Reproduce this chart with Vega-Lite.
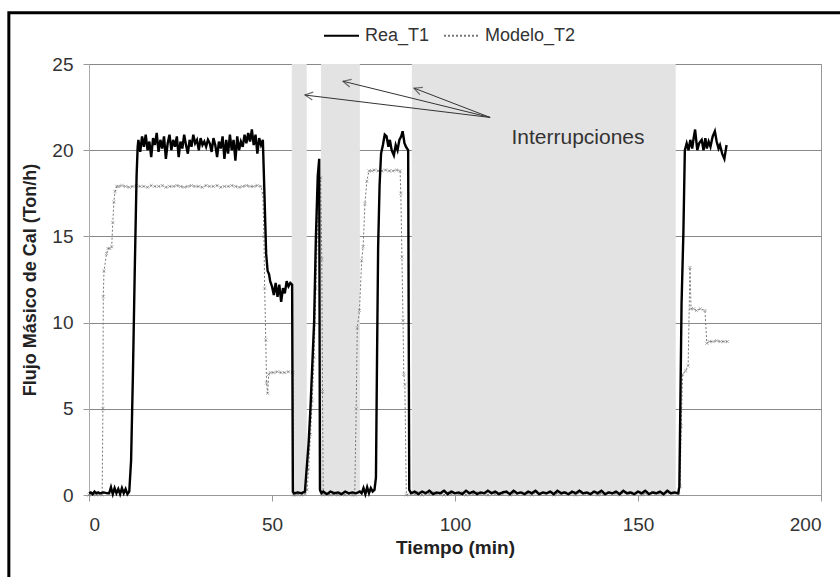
{
  "$schema": "https://vega.github.io/schema/vega-lite/v6.json",
  "autosize": {"type": "none"},
  "width": 732,
  "height": 431,
  "padding": {"left": 89, "top": 64, "right": 19, "bottom": 82},
  "config": {
    "font": "Liberation Sans",
    "view": {"stroke": "#999999", "strokeWidth": 1},
    "legend": {"padding": 0}
  },
  "datasets": {
    "rea": [
      {"t":0,"v":0.1},{"t":0.5,"v":0.15},{"t":1,"v":0.05},{"t":1.5,"v":0.2},{"t":2,"v":0.1},{"t":2.5,"v":0.15},{"t":3,"v":0.1},{"t":4,"v":0.15},{"t":5,"v":0.1},{"t":5.5,"v":0.1},{"t":6,"v":0.45},{"t":6.5,"v":0.05},{"t":7,"v":0.4},{"t":7.5,"v":0.1},{"t":8,"v":0.35},{"t":8.5,"v":0.05},{"t":9,"v":0.4},{"t":9.5,"v":0.1},{"t":10,"v":0.35},{"t":10.5,"v":0.05},{"t":11,"v":0.2},
      {"t":11.5,"v":2},{"t":12,"v":7},{"t":12.5,"v":13},{"t":13,"v":18.5},{"t":13.3,"v":20.2},
      {"t":13.5,"v":20.6},{"t":14,"v":19.9},{"t":14.5,"v":20.8},{"t":15,"v":20.2},{"t":15.5,"v":20.9},{"t":16,"v":20.0},{"t":16.5,"v":20.5},{"t":17,"v":19.6},{"t":17.5,"v":20.7},{"t":18,"v":20.3},{"t":18.5,"v":21.0},{"t":19,"v":19.9},{"t":19.5,"v":20.6},{"t":20,"v":20.1},{"t":20.5,"v":20.8},{"t":21,"v":19.5},{"t":21.5,"v":20.4},{"t":22,"v":20.9},{"t":22.5,"v":20.0},{"t":23,"v":20.6},{"t":23.5,"v":20.2},{"t":24,"v":20.8},{"t":24.5,"v":19.6},{"t":25,"v":20.5},{"t":25.5,"v":20.1},{"t":26,"v":20.9},{"t":26.5,"v":20.3},{"t":27,"v":19.8},{"t":27.5,"v":20.6},{"t":28,"v":20.2},{"t":28.5,"v":20.9},{"t":29,"v":20.4},{"t":29.5,"v":20.6},{"t":30,"v":20.0},{"t":30.5,"v":20.7},{"t":31,"v":20.3},{"t":31.5,"v":20.5},{"t":32,"v":20.2},{"t":32.5,"v":20.6},{"t":33,"v":20.4},{"t":33.5,"v":19.9},{"t":34,"v":20.7},{"t":34.5,"v":20.3},{"t":35,"v":19.6},{"t":35.5,"v":20.5},{"t":36,"v":20.1},{"t":36.5,"v":20.8},{"t":37,"v":19.5},{"t":37.5,"v":20.6},{"t":38,"v":19.8},{"t":38.5,"v":20.9},{"t":39,"v":20.0},{"t":39.5,"v":20.6},{"t":40,"v":19.4},{"t":40.5,"v":20.8},{"t":41,"v":20.0},{"t":41.5,"v":20.5},{"t":42,"v":20.2},{"t":42.5,"v":20.9},{"t":43,"v":20.4},{"t":43.5,"v":21.0},{"t":44,"v":20.5},{"t":44.5,"v":21.2},{"t":45,"v":20.3},{"t":45.5,"v":20.9},{"t":46,"v":19.8},{"t":46.5,"v":20.7},{"t":47,"v":20.3},{"t":47.5,"v":20.6},
      {"t":48,"v":17},{"t":48.4,"v":14},{"t":48.8,"v":13},{"t":49.2,"v":12.8},{"t":49.5,"v":12.4},
      {"t":50,"v":12.1},{"t":50.5,"v":11.6},{"t":51,"v":12.3},{"t":51.5,"v":11.5},{"t":52,"v":12.2},{"t":52.5,"v":11.2},{"t":53,"v":12.0},{"t":53.5,"v":11.7},{"t":54,"v":12.4},{"t":54.5,"v":12.1},{"t":55,"v":12.3},{"t":55.5,"v":12.2},
      {"t":55.7,"v":0.2},{"t":56,"v":0.1},{"t":57,"v":0.15},{"t":58,"v":0.1},{"t":59,"v":0.2},{"t":59.5,"v":1.6},{"t":60,"v":3},{"t":60.5,"v":5},{"t":61,"v":7.5},{"t":61.5,"v":10},{"t":62,"v":15},{"t":62.5,"v":18.5},{"t":62.9,"v":19.5},{"t":63.1,"v":0.3},{"t":63.5,"v":0.1},
      {"t":64,"v":0.2},{"t":65,"v":0.05},{"t":66,"v":0.2},{"t":67,"v":0.1},{"t":68,"v":0.15},{"t":69,"v":0.05},{"t":70,"v":0.2},{"t":71,"v":0.1},{"t":72,"v":0.15},{"t":73,"v":0.1},{"t":74,"v":0.2},{"t":74.5,"v":0.1},{"t":75,"v":0.4},{"t":75.5,"v":0.05},{"t":76,"v":0.45},{"t":76.5,"v":0.1},{"t":77,"v":0.4},{"t":77.5,"v":0.2},{"t":78,"v":0.3},
      {"t":78.4,"v":1},{"t":78.7,"v":8},{"t":79,"v":14.4},{"t":79.4,"v":18},{"t":79.8,"v":19.8},{"t":80.3,"v":20.3},{"t":80.8,"v":20.9},{"t":81.3,"v":20.8},{"t":81.8,"v":20.2},{"t":82.2,"v":20.6},{"t":82.7,"v":20.0},{"t":83.3,"v":19.7},{"t":83.8,"v":20.3},{"t":84.3,"v":20.0},{"t":84.8,"v":20.6},{"t":85.3,"v":20.8},{"t":85.7,"v":21.1},{"t":86.2,"v":20.4},{"t":86.6,"v":20.2},{"t":87.2,"v":20.0},
      {"t":87.5,"v":0.3},{"t":88,"v":0.1},{"t":89,"v":0.2},{"t":90,"v":0.05},{"t":91,"v":0.2},{"t":92,"v":0.1},{"t":93,"v":0.25},{"t":94,"v":0.05},{"t":95,"v":0.15},{"t":96,"v":0.1},{"t":97,"v":0.25},{"t":98,"v":0.05},{"t":99,"v":0.2},{"t":100,"v":0.1},{"t":101,"v":0.15},{"t":102,"v":0.05},{"t":103,"v":0.25},{"t":104,"v":0.1},{"t":105,"v":0.2},{"t":106,"v":0.05},{"t":107,"v":0.15},{"t":108,"v":0.1},{"t":109,"v":0.25},{"t":110,"v":0.1},{"t":111,"v":0.2},{"t":112,"v":0.05},{"t":113,"v":0.15},{"t":114,"v":0.2},{"t":115,"v":0.05},{"t":116,"v":0.25},{"t":117,"v":0.1},{"t":118,"v":0.15},{"t":119,"v":0.05},{"t":120,"v":0.2},{"t":121,"v":0.1},{"t":122,"v":0.25},{"t":123,"v":0.05},{"t":124,"v":0.15},{"t":125,"v":0.1},{"t":126,"v":0.2},{"t":127,"v":0.05},{"t":128,"v":0.25},{"t":129,"v":0.1},{"t":130,"v":0.15},{"t":131,"v":0.05},{"t":132,"v":0.2},{"t":133,"v":0.1},{"t":134,"v":0.25},{"t":135,"v":0.1},{"t":136,"v":0.15},{"t":137,"v":0.05},{"t":138,"v":0.2},{"t":139,"v":0.1},{"t":140,"v":0.25},{"t":141,"v":0.05},{"t":142,"v":0.15},{"t":143,"v":0.1},{"t":144,"v":0.2},{"t":145,"v":0.05},{"t":146,"v":0.25},{"t":147,"v":0.1},{"t":148,"v":0.15},{"t":149,"v":0.05},{"t":150,"v":0.2},{"t":151,"v":0.1},{"t":152,"v":0.25},{"t":153,"v":0.05},{"t":154,"v":0.15},{"t":155,"v":0.1},{"t":156,"v":0.2},{"t":157,"v":0.05},{"t":158,"v":0.25},{"t":159,"v":0.1},{"t":160,"v":0.15},{"t":161,"v":0.1},
      {"t":161.3,"v":0.5},{"t":161.6,"v":5.7},{"t":161.9,"v":11.1},{"t":162.4,"v":15.2},{"t":162.8,"v":20},{"t":163.3,"v":20.4},{"t":163.8,"v":20.0},{"t":164.3,"v":20.6},{"t":164.8,"v":20.1},{"t":165.2,"v":20.7},{"t":165.6,"v":21.2},{"t":166.2,"v":20.0},{"t":166.7,"v":20.4},{"t":167.4,"v":20.6},{"t":167.9,"v":20.0},{"t":168.4,"v":20.7},{"t":168.8,"v":20.1},{"t":169.3,"v":20.5},{"t":169.8,"v":20.2},{"t":170.4,"v":20.8},{"t":171,"v":21.1},{"t":171.5,"v":20.5},{"t":172,"v":20.1},{"t":172.4,"v":20.3},{"t":173,"v":19.8},{"t":173.6,"v":19.5},{"t":174.2,"v":20.3}
    ],
    "mod": [
      {"t":0,"v":0},{"t":1,"v":0.05},{"t":2,"v":0},{"t":3,"v":0.05},{"t":3.6,"v":0},{"t":3.8,"v":5},{"t":3.9,"v":11.5},{"t":4.1,"v":13},{"t":4.8,"v":14.0},{"t":5.2,"v":14.3},{"t":5.7,"v":14.3},{"t":6.2,"v":14.4},{"t":6.5,"v":15.8},{"t":6.8,"v":17.0},{"t":7.1,"v":17.6},{"t":7.6,"v":17.9},
      {"t":8,"v":17.9},{"t":9,"v":17.95},{"t":10,"v":17.9},{"t":11,"v":17.85},{"t":12,"v":17.9},{"t":13,"v":17.95},{"t":14,"v":17.9},{"t":15,"v":17.9},{"t":16,"v":17.85},{"t":17,"v":17.95},{"t":18,"v":17.9},{"t":19,"v":17.9},{"t":20,"v":17.95},{"t":21,"v":17.85},{"t":22,"v":17.9},{"t":23,"v":17.9},{"t":24,"v":17.95},{"t":25,"v":17.9},{"t":26,"v":17.85},{"t":27,"v":17.9},{"t":28,"v":17.95},{"t":29,"v":17.9},{"t":30,"v":17.9},{"t":31,"v":17.85},{"t":32,"v":17.95},{"t":33,"v":17.9},{"t":34,"v":17.9},{"t":35,"v":17.95},{"t":36,"v":17.85},{"t":37,"v":17.9},{"t":38,"v":17.9},{"t":39,"v":17.95},{"t":40,"v":17.9},{"t":41,"v":17.85},{"t":42,"v":17.9},{"t":43,"v":17.95},{"t":44,"v":17.9},{"t":45,"v":17.9},{"t":46,"v":17.95},{"t":47,"v":17.9},
      {"t":47.5,"v":17.5},{"t":47.8,"v":15},{"t":48,"v":12},{"t":48.3,"v":9},{"t":48.5,"v":6.5},{"t":48.8,"v":5.9},{"t":49.1,"v":7.0},{"t":49.5,"v":7.1},{"t":50.5,"v":7.1},{"t":51.5,"v":7.15},{"t":52.5,"v":7.1},{"t":53.5,"v":7.1},{"t":54.5,"v":7.15},{"t":55.7,"v":7.1},
      {"t":55.9,"v":0},{"t":56.5,"v":0},{"t":57,"v":0.05},{"t":58,"v":0},{"t":59,"v":0.05},{"t":59.6,"v":0.3},{"t":60,"v":1.5},{"t":60.5,"v":3.5},{"t":61,"v":5.5},{"t":61.5,"v":8},{"t":62,"v":12},{"t":62.5,"v":16},{"t":62.9,"v":18.3},{"t":63.3,"v":18.4},{"t":63.6,"v":13.7},{"t":63.8,"v":6},{"t":64,"v":0},
      {"t":65,"v":0.05},{"t":66,"v":0},{"t":67,"v":0.05},{"t":68,"v":0},{"t":69,"v":0.05},{"t":70,"v":0},{"t":71,"v":0.05},{"t":72,"v":0},{"t":72.6,"v":0},
      {"t":73,"v":5},{"t":73.3,"v":9.7},{"t":73.9,"v":10.7},{"t":74.5,"v":13.6},{"t":74.9,"v":14.4},{"t":75.4,"v":16.9},{"t":75.9,"v":18.2},{"t":76.5,"v":18.8},{"t":77.3,"v":18.8},{"t":78,"v":18.85},{"t":79,"v":18.8},{"t":80,"v":18.8},{"t":81,"v":18.85},{"t":82,"v":18.8},{"t":83,"v":18.8},{"t":84,"v":18.85},{"t":85,"v":18.8},
      {"t":85.2,"v":17.5},{"t":85.5,"v":13.8},{"t":85.8,"v":10.1},{"t":86,"v":7.0},{"t":86.3,"v":6.4},{"t":86.7,"v":0},
      {"t":88,"v":0.1},{"t":89,"v":0.05},{"t":90,"v":0.15},{"t":91,"v":0},{"t":92,"v":0.1},{"t":93,"v":0.05},{"t":94,"v":0.15},{"t":95,"v":0.05},{"t":96,"v":0.1},{"t":97,"v":0},{"t":98,"v":0.15},{"t":99,"v":0.05},{"t":100,"v":0.1},{"t":101,"v":0.05},{"t":102,"v":0.15},{"t":103,"v":0},{"t":104,"v":0.1},{"t":105,"v":0.05},{"t":106,"v":0.15},{"t":107,"v":0.05},{"t":108,"v":0.1},{"t":109,"v":0},{"t":110,"v":0.15},{"t":111,"v":0.05},{"t":112,"v":0.1},{"t":113,"v":0.05},{"t":114,"v":0.15},{"t":115,"v":0},{"t":116,"v":0.1},{"t":117,"v":0.05},{"t":118,"v":0.15},{"t":119,"v":0.05},{"t":120,"v":0.1},{"t":121,"v":0},{"t":122,"v":0.15},{"t":123,"v":0.05},{"t":124,"v":0.1},{"t":125,"v":0.05},{"t":126,"v":0.15},{"t":127,"v":0},{"t":128,"v":0.1},{"t":129,"v":0.05},{"t":130,"v":0.15},{"t":131,"v":0.05},{"t":132,"v":0.1},{"t":133,"v":0},{"t":134,"v":0.15},{"t":135,"v":0.05},{"t":136,"v":0.1},{"t":137,"v":0.05},{"t":138,"v":0.15},{"t":139,"v":0},{"t":140,"v":0.1},{"t":141,"v":0.05},{"t":142,"v":0.15},{"t":143,"v":0.05},{"t":144,"v":0.1},{"t":145,"v":0},{"t":146,"v":0.15},{"t":147,"v":0.05},{"t":148,"v":0.1},{"t":149,"v":0.05},{"t":150,"v":0.15},{"t":151,"v":0},{"t":152,"v":0.1},{"t":153,"v":0.05},{"t":154,"v":0.15},{"t":155,"v":0.05},{"t":156,"v":0.1},{"t":157,"v":0},{"t":158,"v":0.15},{"t":159,"v":0.05},{"t":160,"v":0.1},{"t":161,"v":0.05},
      {"t":161.5,"v":0.5},{"t":161.8,"v":4},{"t":162.2,"v":7.0},{"t":163,"v":7.2},{"t":163.7,"v":7.5},{"t":164.2,"v":13.2},{"t":164.5,"v":10.8},{"t":165.2,"v":10.8},{"t":166,"v":10.7},{"t":167,"v":10.8},{"t":168.3,"v":10.7},{"t":168.8,"v":8.8},{"t":169.5,"v":8.9},{"t":170.5,"v":8.9},{"t":171.5,"v":8.95},{"t":172.5,"v":8.9},{"t":173.5,"v":8.9},{"t":174.4,"v":8.9}
    ],
    "bands": [{"a":55.4,"b":59.5},{"a":63.4,"b":74.0},{"a":88.2,"b":160.3}],
    "arrows": [
      {"x":109.6,"y":21.9,"x2":59.0,"y2":23.2},
      {"x":109.6,"y":21.9,"x2":69.4,"y2":24.0},
      {"x":109.6,"y":21.9,"x2":88.8,"y2":23.6}
    ]
  },
  "layer": [
    {
      "data": {"name": "bands"},
      "mark": {"type": "rect", "color": "#e3e3e3"},
      "encoding": {
        "x": {"field": "a", "type": "quantitative", "scale": {"domain": [0, 200], "nice": false}, "axis": {"title": "Tiempo (min)", "values": [0, 50, 100, 150, 200], "grid": false, "domainColor": "#999999", "tickColor": "#999999", "tickSize": 6, "labelFontSize": 19, "labelColor": "#333333", "labelPadding": 14, "titleFontSize": 19, "titleFontWeight": "bold", "titleColor": "#222222", "titlePadding": 4}},
        "x2": {"field": "b"}
      }
    },
    {
      "data": {"values": [{}]},
      "mark": {"type": "rect", "fill": null, "fillOpacity": 0, "stroke": "#000000", "strokeWidth": 3, "clip": false},
      "encoding": {
        "x": {"datum": -21.9, "type": "quantitative"},
        "x2": {"datum": 212},
        "y": {"datum": 27.97, "type": "quantitative"},
        "y2": {"datum": -8}
      }
    },
    {
      "data": {"name": "mod"},
      "mark": {"type": "line", "strokeWidth": 1, "interpolate": "linear"},
      "encoding": {
        "x": {"field": "t", "type": "quantitative"},
        "y": {"field": "v", "type": "quantitative", "scale": {"domain": [0, 25], "nice": false}, "axis": {"title": "Flujo Másico de Cal (Ton/h)", "values": [0, 5, 10, 15, 20, 25], "grid": true, "gridColor": "#888888", "gridWidth": 1, "domainColor": "#aaaaaa", "tickColor": "#999999", "tickSize": 6, "labelFontSize": 19, "labelColor": "#333333", "labelPadding": 10, "titleFontSize": 18, "titleFontWeight": "bold", "titleColor": "#222222", "titlePadding": 12}},
        "color": {"datum": "Modelo_T2", "type": "nominal", "scale": {"domain": ["Rea_T1", "Modelo_T2"], "range": ["#000000", "#777777"]}, "legend": {"title": null, "orient": "none", "legendX": 234, "legendY": -47, "direction": "horizontal", "symbolType": "stroke", "symbolSize": 1225, "symbolStrokeWidth": 2, "labelFontSize": 18, "labelColor": "#333333", "labelOffset": 5, "columnPadding": 10}},
        "strokeDash": {"datum": "Modelo_T2", "type": "nominal", "scale": {"domain": ["Rea_T1", "Modelo_T2"], "range": [[1, 0], [2, 2]]}, "legend": {"title": null, "orient": "none", "legendX": 234, "legendY": -47, "direction": "horizontal", "symbolType": "stroke", "symbolSize": 1225, "symbolStrokeWidth": 2, "labelFontSize": 18, "labelColor": "#333333", "labelOffset": 5, "columnPadding": 10}}
      }
    },
    {
      "data": {"name": "mod"},
      "mark": {"type": "point", "shape": "M-1,-1L1,1M-1,1L1,-1", "size": 10, "filled": false, "stroke": "#777777", "strokeWidth": 0.8},
      "encoding": {
        "x": {"field": "t", "type": "quantitative"},
        "y": {"field": "v", "type": "quantitative"}
      }
    },
    {
      "data": {"name": "rea"},
      "mark": {"type": "line", "strokeWidth": 2.4},
      "encoding": {
        "x": {"field": "t", "type": "quantitative"},
        "y": {"field": "v", "type": "quantitative"},
        "color": {"datum": "Rea_T1", "type": "nominal"},
        "strokeDash": {"datum": "Rea_T1", "type": "nominal"}
      }
    },
    {
      "data": {"name": "arrows"},
      "mark": {"type": "rule", "color": "#333333", "strokeWidth": 1},
      "encoding": {
        "x": {"field": "x", "type": "quantitative"},
        "y": {"field": "y", "type": "quantitative"},
        "x2": {"field": "x2"},
        "y2": {"field": "y2"}
      }
    },
    {
      "data": {"values": [{"x": 59.0, "y": 23.2}]},
      "mark": {"type": "point", "shape": "M-0.5,1L0,0L0.5,1", "size": 250, "filled": false, "stroke": "#333333", "strokeWidth": 1.2, "angle": 277},
      "encoding": {"x": {"field": "x", "type": "quantitative"}, "y": {"field": "y", "type": "quantitative"}}
    },
    {
      "data": {"values": [{"x": 69.4, "y": 24.0}]},
      "mark": {"type": "point", "shape": "M-0.5,1L0,0L0.5,1", "size": 250, "filled": false, "stroke": "#333333", "strokeWidth": 1.2, "angle": 284},
      "encoding": {"x": {"field": "x", "type": "quantitative"}, "y": {"field": "y", "type": "quantitative"}}
    },
    {
      "data": {"values": [{"x": 88.8, "y": 23.6}]},
      "mark": {"type": "point", "shape": "M-0.5,1L0,0L0.5,1", "size": 250, "filled": false, "stroke": "#333333", "strokeWidth": 1.2, "angle": 291.5},
      "encoding": {"x": {"field": "x", "type": "quantitative"}, "y": {"field": "y", "type": "quantitative"}}
    },
    {
      "data": {"values": [{"label": "Interrupciones", "x": 133.6, "y": 20.7}]},
      "mark": {"type": "text", "fontSize": 21, "color": "#333333", "align": "center", "baseline": "middle"},
      "encoding": {
        "x": {"field": "x", "type": "quantitative"},
        "y": {"field": "y", "type": "quantitative"},
        "text": {"field": "label"}
      }
    }
  ]
}
